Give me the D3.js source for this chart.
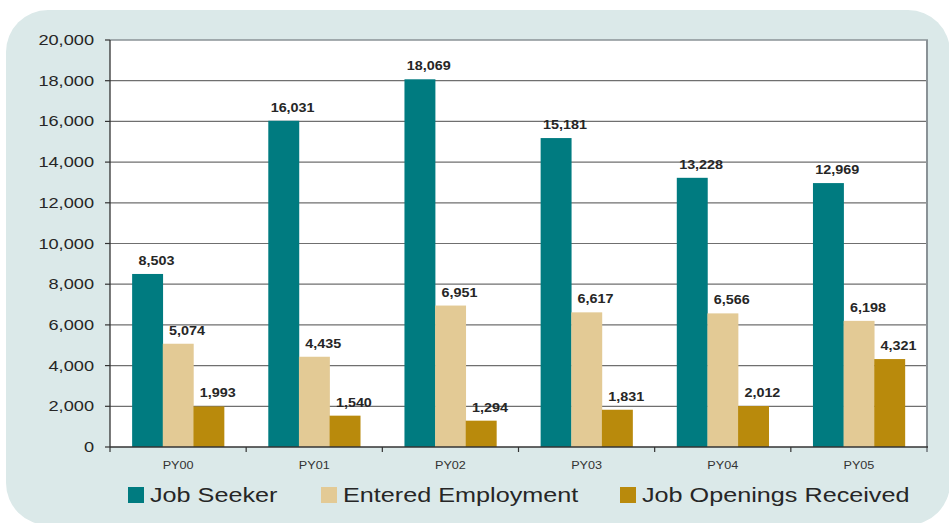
<!DOCTYPE html>
<html>
<head>
<meta charset="utf-8">
<script src="https://cdn.jsdelivr.net/npm/d3@7/dist/d3.min.js"></script>
<style>
  html, body { margin: 0; padding: 0; background: #ffffff; }
  svg { display: block; font-family: "Liberation Sans", Arial, sans-serif; }
</style>
</head>
<body>
<svg id="chart" width="949" height="523"></svg>
<script>
// Program years and the three series shown for each
const categories = ["PY00", "PY01", "PY02", "PY03", "PY04", "PY05"];
const seriesNames = ["Job Seeker", "Entered Employment", "Job Openings Received"];
const jobSeeker = [8503, 16031, 18069, 15181, 13228, 12969];
const enteredEmployment = [5074, 4435, 6951, 6617, 6566, 6198];
const jobOpenings = [1993, 1540, 1294, 1831, 2012, 4321];
const yTicks = [0, 2000, 4000, 6000, 8000, 10000, 12000, 14000, 16000, 18000, 20000];
const colors = ["#007b80", "#e3ca95", "#b98a0c"];

const seriesValues = [jobSeeker, enteredEmployment, jobOpenings];
const fmt = d3.format(",");

const svg = d3.select("#chart");

// Rounded background panel
svg.append("rect")
  .attr("x", 6).attr("y", 10)
  .attr("width", 944).attr("height", 515)
  .attr("rx", 42).attr("ry", 42)
  .attr("fill", "#dbe9e9");

const plot = { left: 110, top: 40, right: 927, bottom: 447 };

const x0 = d3.scaleBand().domain(categories)
  .range([plot.left, plot.right]).paddingInner(0.325).paddingOuter(0.1625);
const x1 = d3.scaleBand().domain(seriesNames)
  .range([0, x0.bandwidth()]);
const y = d3.scaleLinear().domain([0, 20000]).range([plot.bottom, plot.top]);

// Plot area
svg.append("rect")
  .attr("x", plot.left).attr("y", plot.top)
  .attr("width", plot.right - plot.left).attr("height", plot.bottom - plot.top)
  .attr("fill", "#ffffff");

// Horizontal gridlines
svg.append("g").selectAll("line")
  .data(yTicks.filter(t => t > 0 && t < 20000))
  .join("line")
  .attr("x1", plot.left).attr("x2", plot.right)
  .attr("y1", d => y(d)).attr("y2", d => y(d))
  .attr("stroke", "#6f6f6f").attr("stroke-width", 1.2);

// Top and right frame
svg.append("line")
  .attr("x1", plot.left).attr("x2", plot.right + 1)
  .attr("y1", plot.top).attr("y2", plot.top)
  .attr("stroke", "#8a9296").attr("stroke-width", 1.6);
svg.append("line")
  .attr("x1", plot.right).attr("x2", plot.right)
  .attr("y1", plot.top).attr("y2", plot.bottom + 5)
  .attr("stroke", "#8a9296").attr("stroke-width", 2);

// Helper for horizontally widened text
function wideText(sel, sx) {
  return sel.attr("transform", function () {
    const tx = +this.getAttribute("data-x"), ty = +this.getAttribute("data-y");
    return `translate(${tx},${ty}) scale(${sx},1)`;
  });
}

// Bars
const groups = svg.append("g").selectAll("g")
  .data(categories)
  .join("g")
  .attr("transform", d => `translate(${x0(d)},0)`);

groups.selectAll("rect")
  .data((c, i) => seriesNames.map((s, k) => ({ s, k, v: seriesValues[k][i] })))
  .join("rect")
  .attr("x", d => x1(d.s))
  .attr("width", x1.bandwidth() + 0.3)
  .attr("y", d => y(d.v))
  .attr("height", d => y(0) - y(d.v))
  .attr("fill", d => colors[d.k]);

// Value labels
groups.selectAll("text")
  .data((c, i) => seriesNames.map((s, k) => ({ s, k, v: seriesValues[k][i] })))
  .join("text")
  .attr("data-x", d => x1(d.s) + x1.bandwidth() / 2 + 9)
  .attr("data-y", d => y(d.v) - 9)
  .attr("text-anchor", "middle")
  .attr("font-size", 12.5)
  .attr("font-weight", "bold")
  .attr("fill", "#262626")
  .text(d => fmt(d.v))
  .call(wideText, 1.15);

// Y axis
const yAxis = svg.append("g");
yAxis.append("line")
  .attr("x1", plot.left).attr("x2", plot.left)
  .attr("y1", plot.top).attr("y2", plot.bottom)
  .attr("stroke", "#333").attr("stroke-width", 1.3);
yAxis.selectAll("line.tick").data(yTicks).join("line")
  .attr("class", "tick")
  .attr("x1", plot.left - 5).attr("x2", plot.left)
  .attr("y1", d => y(d)).attr("y2", d => y(d))
  .attr("stroke", "#333").attr("stroke-width", 1.2);
yAxis.selectAll("text").data(yTicks).join("text")
  .attr("data-x", 94)
  .attr("data-y", d => y(d) + 5)
  .attr("text-anchor", "end")
  .attr("font-size", 14)
  .attr("fill", "#262626")
  .text(d => fmt(d))
  .call(wideText, 1.3);

// X axis
const xAxis = svg.append("g");
xAxis.append("line")
  .attr("x1", plot.left).attr("x2", plot.right + 1)
  .attr("y1", plot.bottom).attr("y2", plot.bottom)
  .attr("stroke", "#333").attr("stroke-width", 1.3);
const step = (plot.right - plot.left) / categories.length;
xAxis.selectAll("line.tick").data(d3.range(categories.length)).join("line")
  .attr("class", "tick")
  .attr("x1", i => plot.left + i * step).attr("x2", i => plot.left + i * step)
  .attr("y1", plot.bottom).attr("y2", plot.bottom + 5)
  .attr("stroke", "#333").attr("stroke-width", 1.2);
xAxis.selectAll("text").data(categories).join("text")
  .attr("data-x", d => x0(d) + x0.bandwidth() / 2)
  .attr("data-y", 469)
  .attr("text-anchor", "middle")
  .attr("font-size", 11.6)
  .attr("fill", "#333")
  .text(d => d)
  .call(wideText, 1.09);

// Legend
const legendX = [128, 321, 620];
const legend = svg.append("g").selectAll("g")
  .data(seriesNames)
  .join("g");
legend.append("rect")
  .attr("x", (d, i) => legendX[i]).attr("y", 487)
  .attr("width", 16).attr("height", 16)
  .attr("fill", (d, i) => colors[i]);
legend.append("text")
  .attr("data-x", (d, i) => legendX[i] + 22)
  .attr("data-y", 502)
  .attr("font-size", 21)
  .attr("fill", "#262626")
  .text(d => d)
  .call(wideText, 1.2);
</script>
</body>
</html>
